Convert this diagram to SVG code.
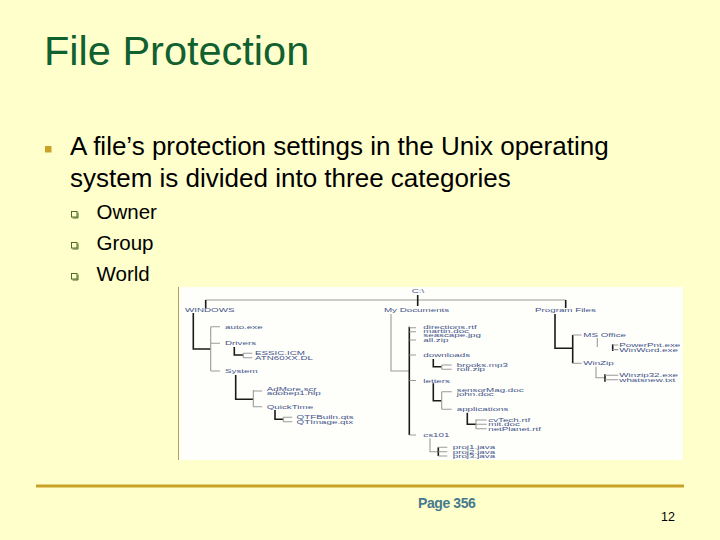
<svg xmlns="http://www.w3.org/2000/svg" width="720" height="540" viewBox="0 0 720 540">
<style>
.title{font-family:"Liberation Sans",Arial,sans-serif;font-size:41.5px;fill:#106030}
.body{font-family:"Liberation Sans",Arial,sans-serif;font-size:26px;fill:#000}
.sub{font-family:"Liberation Sans",Arial,sans-serif;font-size:20.5px;fill:#000}
.t{font-family:"Liberation Sans",Arial,sans-serif;font-size:5.6px;fill:#45558a}
.k{stroke:#1a1a1a;stroke-width:1.6;fill:none}
.g{stroke:#9a9a9a;stroke-width:1.1;fill:none}
.sb{fill:none;stroke:#4f6a22;stroke-width:1}
.foot{font-family:"Liberation Sans",Arial,sans-serif;font-size:14px;font-weight:bold;fill:#467a8e}
.num{font-family:"Liberation Sans",Arial,sans-serif;font-size:12.5px;fill:#000}
</style>
<rect width="720" height="540" fill="#ffffcc"/>
<g id="title"><text class="title" x="44" y="65">File Protection</text></g>
<g id="bullet-main">
<rect x="45" y="146" width="6.5" height="6.5" fill="#c9a227"/>
<text class="body" x="70" y="155">A file’s protection settings in the Unix operating</text>
<text class="body" x="70" y="187">system is divided into three categories</text>
</g>
<g id="bullet-owner"><rect class="sb" x="71.5" y="211.5" width="5.5" height="5.5"/><path class="sb" d="M78 212.5V218H72.5"/><text class="sub" x="96.5" y="219">Owner</text></g>
<g id="bullet-group"><rect class="sb" x="71.5" y="242.5" width="5.5" height="5.5"/><path class="sb" d="M78 243.5V249H72.5"/><text class="sub" x="96.5" y="250">Group</text></g>
<g id="bullet-world"><rect class="sb" x="71.5" y="273.5" width="5.5" height="5.5"/><path class="sb" d="M78 274.5V280H72.5"/><text class="sub" x="96.5" y="281">World</text></g>

<g id="tree">
<rect x="179" y="287" width="504" height="173" fill="#fefefb"/>
<line x1="178.5" y1="287" x2="178.5" y2="460" stroke="#b9a34a" stroke-width="1"/>
<g id="connectors">
<path class="g" d="M205.7 300H565.7"/>
<path class="k" d="M205.7 300V308M417.7 295V306M565.7 300V308"/>
<path class="k" d="M193.3 313V349H210.7"/>
<path class="g" d="M210.7 326.7V371M210.7 326.7H220M210.7 343.3H220M210.7 371H220"/>
<path class="k" d="M234.3 347V355H243.3"/>
<path class="g" d="M243.3 353.3V357.7M243.3 353.3H252.3M243.3 357.7H252.3"/>
<path class="k" d="M235.7 375V399.3H253.3"/>
<path class="g" d="M253.3 390V406.7M253.3 391H262.3M253.3 406.7H262.3"/>
<path class="k" d="M275 410V419.3H283.3"/>
<path class="g" d="M283.3 417.3V421.7M283.3 417.3H292.3M283.3 421.7H292.3"/>
<path class="g" d="M391 314V371H409.3"/>
<path class="k" d="M409.3 326.7V435"/>
<path class="g" d="M409.3 327.7H416M409.3 331.7H416M409.3 340H416M409.3 355H416M409.3 380.5H416M409.3 435H416"/>
<path class="k" d="M433.3 359V366.7H441.7"/>
<path class="g" d="M441.7 365V369.3M441.7 365H451.7M441.7 369.3H451.7"/>
<path class="k" d="M433.3 383.3V400.7H441.7"/>
<path class="g" d="M441.7 391.7V409.3M441.7 391.7H451.7M441.7 409.3H451.7"/>
<path class="k" d="M467.3 412.7V424.3H476"/>
<path class="g" d="M476 419.3V429.3M476 420H486.7M476 424.3H486.7M476 428.7H486.7"/>
<path class="g" d="M430 438.3V451.7H438.3"/>
<path class="k" d="M438.3 447.3V456"/>
<path class="g" d="M438.3 447.3H447.3M438.3 451.7H447.3M438.3 456H447.3"/>
<path class="k" d="M555 314V348.3H572.7M572.7 335V363.3"/>
<path class="g" d="M572.7 335H581.7M572.7 363.3H581.7"/>
<path class="g" d="M597.3 338V347"/>
<path class="k" d="M612.7 344.3V351"/>
<path class="g" d="M612.7 345H618.3M612.7 349.6H618.3"/>
<path class="g" d="M596 366.7V377.7H605"/>
<path class="k" d="M605 374.3V381.7"/>
<path class="g" d="M605 375.3H618.3M605 379.7H618.3"/>
</g>
<g id="tree-labels" transform="scale(1.75 1)">
<g id="n-root"><text class="t" x="235.3" y="293">C:\</text></g>
<g id="n-windows"><text class="t" x="105.7" y="312">WINDOWS</text></g>
<g id="n-mydocs"><text class="t" x="219.4" y="312">My Documents</text></g>
<g id="n-progfiles"><text class="t" x="305.7" y="312">Program Files</text></g>
<g id="n-auto"><text class="t" x="128.6" y="328.7">auto.exe</text></g>
<g id="n-drivers"><text class="t" x="128.6" y="345.3">Drivers</text></g>
<g id="n-drvfiles"><text class="t" x="145.7" y="355.3">ESSIC.ICM</text><text class="t" x="145.7" y="359.7">ATN60XX.DL</text></g>
<g id="n-system"><text class="t" x="128.6" y="373">System</text></g>
<g id="n-sysfiles"><text class="t" x="152.4" y="391.3">AdMore.scr</text><text class="t" x="152.4" y="395.3">adobep1.hlp</text></g>
<g id="n-quicktime"><text class="t" x="152.4" y="408.7">QuickTime</text></g>
<g id="n-qtfiles"><text class="t" x="169.5" y="419.3">QTFBuiln.qts</text><text class="t" x="169.5" y="423.7">QTImage.qtx</text></g>
<g id="n-docfiles"><text class="t" x="241.9" y="328.7">directions.rtf</text><text class="t" x="241.9" y="332.9">martin.doc</text><text class="t" x="241.9" y="337.3">seascape.jpg</text><text class="t" x="241.9" y="341.6">all.zip</text></g>
<g id="n-downloads"><text class="t" x="241.9" y="357">downloads</text></g>
<g id="n-dlfiles"><text class="t" x="261" y="367">brooks.mp3</text><text class="t" x="261" y="371.3">roll.zip</text></g>
<g id="n-letters"><text class="t" x="241.9" y="382.7">letters</text></g>
<g id="n-letfiles"><text class="t" x="261" y="392">sensorMag.doc</text><text class="t" x="261" y="396.3">john.doc</text></g>
<g id="n-applications"><text class="t" x="261" y="411.3">applications</text></g>
<g id="n-appfiles"><text class="t" x="279" y="422">cvTech.rtf</text><text class="t" x="279" y="426.3">mit.doc</text><text class="t" x="279" y="430.7">netPlanet.rtf</text></g>
<g id="n-cs101"><text class="t" x="241.9" y="437">cs101</text></g>
<g id="n-csfiles"><text class="t" x="258.7" y="449.3">proj1.java</text><text class="t" x="258.7" y="453.7">proj2.java</text><text class="t" x="258.7" y="458">proj3.java</text></g>
<g id="n-msoffice"><text class="t" x="333.3" y="337">MS Office</text></g>
<g id="n-officefiles"><text class="t" x="353.9" y="347">PowerPnt.exe</text><text class="t" x="353.9" y="351.6">WinWord.exe</text></g>
<g id="n-winzip"><text class="t" x="333.3" y="365.3">WinZip</text></g>
<g id="n-zipfiles"><text class="t" x="353.9" y="377.3">Winzip32.exe</text><text class="t" x="353.9" y="381.7">whatsnew.txt</text></g>
</g>
</g>

<g id="footer">
<line x1="36" y1="486" x2="684" y2="486" stroke="#c8a226" stroke-width="3"/>
<text class="foot" x="418" y="508" letter-spacing="-0.4">Page 356</text>
<text class="num" x="661" y="521">12</text>
</g>
</svg>
